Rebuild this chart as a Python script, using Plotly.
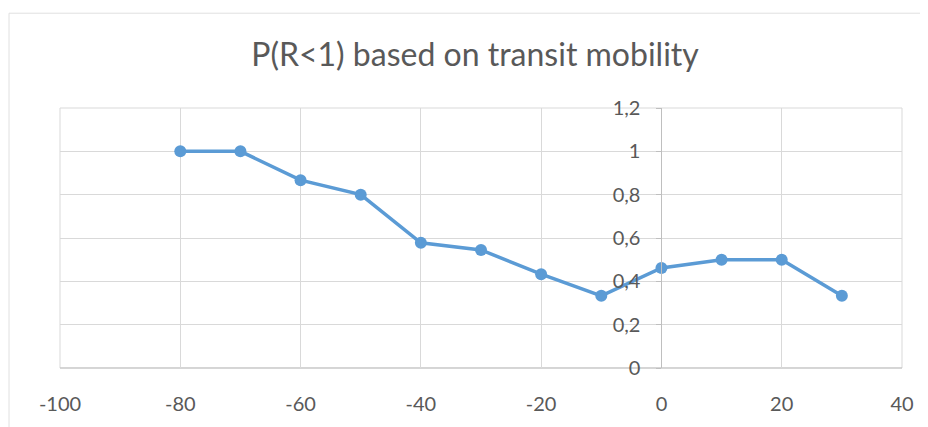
import plotly.graph_objects as go

# Data
mobility = [-80, -70, -60, -50, -40, -30, -20, -10, 0, 10, 20, 30]
p_r_below_1 = [1.0, 1.0, 0.867, 0.8, 0.578, 0.545, 0.433, 0.333, 0.462, 0.5, 0.5, 0.333]
x_tick_vals = [-100, -80, -60, -40, -20, 0, 20, 40]
x_tick_text = ["-100", "-80", "-60", "-40", "-20", "0", "20", "40"]
y_tick_vals = [0, 0.2, 0.4, 0.6, 0.8, 1.0, 1.2]
y_tick_text = ["0", "0,2", "0,4", "0,6", "0,8", "1", "1,2"]
title_text = "P(R<1) based on transit mobility"

# page body has an 8px margin, so the figure is offset by 8px
OFF = 8
W, H = 928 - OFF, 427 - OFF
ml, mr, mt, mb = 60 - OFF, 26, 108 - OFF, 53
x_min, x_max = -100, 40
pw, ph = W - ml - mr, H - mt - mb

grid = "#d9d9d9"
txt = "#595959"
blue = "#5b9bd5"
font_family = "Lato, Carlito, 'Open Sans', sans-serif"

fig = go.Figure()
fig.add_trace(go.Scatter(
    x=mobility, y=p_r_below_1, mode="lines+markers",
    line=dict(color=blue, width=3.5),
    marker=dict(color=blue, size=12),
    showlegend=False, hoverinfo="x+y",
))

fig.update_layout(
    width=W, height=H,
    margin=dict(l=ml, r=mr, t=mt, b=mb),
    paper_bgcolor="white", plot_bgcolor="white",
    font=dict(family=font_family, color=txt, size=20),
    title=dict(text=title_text, x=(475 - OFF) / W, xanchor="center", y=1 - (55 - OFF) / H,
               yanchor="middle", font=dict(size=32, color=txt, family=font_family)),
    xaxis=dict(range=[x_min, x_max], tickvals=x_tick_vals, ticktext=x_tick_text,
               showgrid=True, gridcolor=grid, gridwidth=1, zeroline=False,
               showline=False, ticks="", ticklabelstandoff=22,
               tickfont=dict(size=20, color=txt)),
    yaxis=dict(range=[0, 1.2], tickvals=y_tick_vals, ticktext=y_tick_text,
               anchor="free", position=(0 - x_min) / (x_max - x_min), side="left",
               showgrid=True, gridcolor=grid, gridwidth=1, zeroline=False,
               showline=True, linecolor="#bfbfbf", linewidth=1,
               ticks="outside", ticklen=5, tickcolor="#bfbfbf", ticklabelstandoff=12,
               tickfont=dict(size=20, color=txt)),
    shapes=[
        dict(type="rect", xref="x domain", yref="y domain", x0=0, x1=1, y0=0, y1=1,
             line=dict(color=grid, width=1), fillcolor="rgba(0,0,0,0)", layer="below"),
        dict(type="line", xref="x domain", yref="y domain", x0=0, x1=1, y0=0, y1=0,
             line=dict(color="#bfbfbf", width=1), layer="below"),
        dict(type="rect", xref="paper", yref="paper",
             x0=(1 - ml) / pw, x1=(W + 40 - ml) / pw,
             y0=(-40 - mb) / ph, y1=1 + (mt - 3) / ph,
             line=dict(color="#e0e0e0", width=1), fillcolor="rgba(0,0,0,0)", layer="below"),
    ],
)

fig.write_html("out.html")
